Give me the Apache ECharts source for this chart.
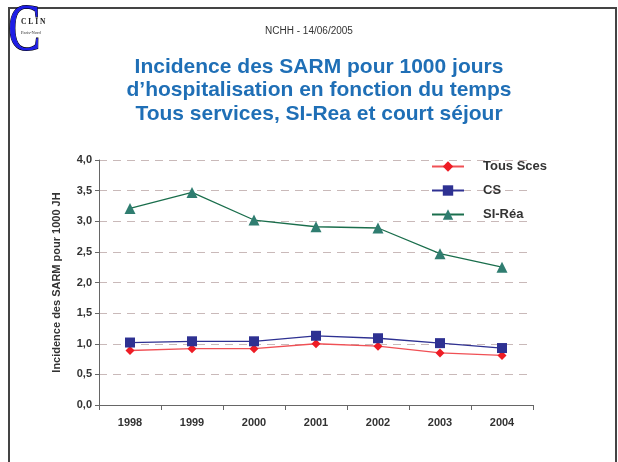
<!DOCTYPE html>
<html>
<head>
<meta charset="utf-8">
<script src="https://cdn.jsdelivr.net/npm/echarts@6/dist/echarts.min.js"></script>
<style>
  html, body { margin: 0; padding: 0; background: #fff; }
  #chart { width: 618px; height: 462px; }
</style>
</head>
<body>
<div id="chart"></div>
<script>
const annees = ["1998", "1999", "2000", "2001", "2002", "2003", "2004"];
const tousSces = [0.89, 0.92, 0.92, 1.00, 0.96, 0.85, 0.81];
const cs = [1.02, 1.04, 1.04, 1.13, 1.09, 1.01, 0.93];
const siRea = [3.21, 3.47, 3.02, 2.91, 2.89, 2.47, 2.25];

function dessinerGraphique() {
  const chart = echarts.init(document.getElementById("chart"));
  const police = "Liberation Sans, Arial, sans-serif";

  const option = {
    animation: false,
    title: [
      {
        text: "NCHH - 14/06/2005",
        left: "center",
        top: 21,
        textStyle: { fontSize: 10, fontWeight: "normal", color: "#333", fontFamily: police }
      },
      {
        text: "Incidence des SARM pour 1000 jours\nd’hospitalisation en fonction du temps\nTous services, SI-Rea et court séjour",
        left: 314,
        textAlign: "center",
        top: 50,
        textStyle: { fontSize: 21, fontWeight: "bold", color: "#1f6fb6", lineHeight: 23.5, fontFamily: police }
      }
    ],
    legend: {
      orient: "vertical",
      left: 426,
      top: 155,
      itemWidth: 32,
      itemHeight: 13,
      itemGap: 11,
      textStyle: { fontSize: 13, fontWeight: "bold", color: "#333", fontFamily: police, padding: [0, 0, 0, 14] },
      data: ["Tous Sces", "CS", "SI-Réa"]
    },
    grid: { left: 99, right: 85, top: 160, bottom: 57 },
    xAxis: {
      type: "category",
      data: annees,
      boundaryGap: true,
      axisLine: { lineStyle: { color: "#666", width: 1 } },
      axisTick: { show: true, interval: 0, length: 5, lineStyle: { color: "#666" } },
      axisLabel: { fontSize: 11, fontWeight: "bold", color: "#333", margin: 12, fontFamily: police }
    },
    yAxis: {
      type: "value",
      min: 0,
      max: 4,
      interval: 0.5,
      name: "Incidence des SARM pour 1000 JH",
      nameLocation: "middle",
      nameGap: 37,
      nameTextStyle: { fontSize: 11, fontWeight: "bold", color: "#333", fontFamily: police },
      axisLine: { show: true, lineStyle: { color: "#666", width: 1 } },
      axisTick: { show: true, length: 4, lineStyle: { color: "#666" } },
      axisLabel: {
        fontSize: 11,
        fontWeight: "bold",
        color: "#333",
        margin: 7,
        fontFamily: police,
        formatter: v => v.toFixed(1).replace(".", ",")
      },
      splitLine: { show: true, lineStyle: { color: "#c9b9b9", type: [8, 6], width: 1 } }
    },
    series: [
      {
        name: "Tous Sces",
        type: "line",
        data: tousSces,
        symbol: "diamond",
        symbolSize: 9,
        itemStyle: { color: "#ee1c25" },
        lineStyle: { color: "#f05055", width: 1.3 }
      },
      {
        name: "CS",
        type: "line",
        data: cs,
        symbol: "rect",
        symbolSize: 10,
        itemStyle: { color: "#2e3192" },
        lineStyle: { color: "#2e3192", width: 1.3 }
      },
      {
        name: "SI-Réa",
        type: "line",
        data: siRea,
        symbol: "triangle",
        symbolSize: 11,
        itemStyle: { color: "#2f7d70" },
        lineStyle: { color: "#1a6e4c", width: 1.3 }
      }
    ],
    graphic: [
      // cadre de la diapositive
      { type: "rect", shape: { x: 8, y: 7, width: 2, height: 470 }, style: { fill: "#444" }, silent: true },
      { type: "rect", shape: { x: 8, y: 7, width: 609, height: 2 }, style: { fill: "#444" }, silent: true },
      { type: "rect", shape: { x: 615, y: 7, width: 2, height: 470 }, style: { fill: "#444" }, silent: true },
      // logo CLIN
      { type: "rect", shape: { x: 11, y: 10, width: 34, height: 42 }, style: { fill: "#fff" }, silent: true },
      {
        type: "text",
        x: 8,
        y: -2,
        scaleX: 0.72,
        style: {
          text: "C", font: "68px 'Liberation Serif', serif", fill: "#1e1ee6",
          stroke: "#000", lineWidth: 1.2, align: "left", verticalAlign: "top",
          shadowColor: "rgba(0,0,0,0.35)", shadowOffsetX: 2, shadowOffsetY: 2, shadowBlur: 1
        },
        silent: true
      },
      {
        type: "text",
        x: 21,
        y: 18,
        style: { text: "C L I N", font: "bold 7.5px 'Liberation Serif', serif", fill: "#222", align: "left", verticalAlign: "top" },
        silent: true
      },
      {
        type: "text",
        x: 21,
        y: 30,
        style: { text: "Paris-Nord", font: "4.5px 'Liberation Serif', serif", fill: "#333", align: "left", verticalAlign: "top" },
        silent: true
      }
    ]
  };

  chart.setOption(option);
  window.addEventListener("resize", () => chart.resize());
}

document.addEventListener("DOMContentLoaded", dessinerGraphique);
</script>
</body>
</html>
